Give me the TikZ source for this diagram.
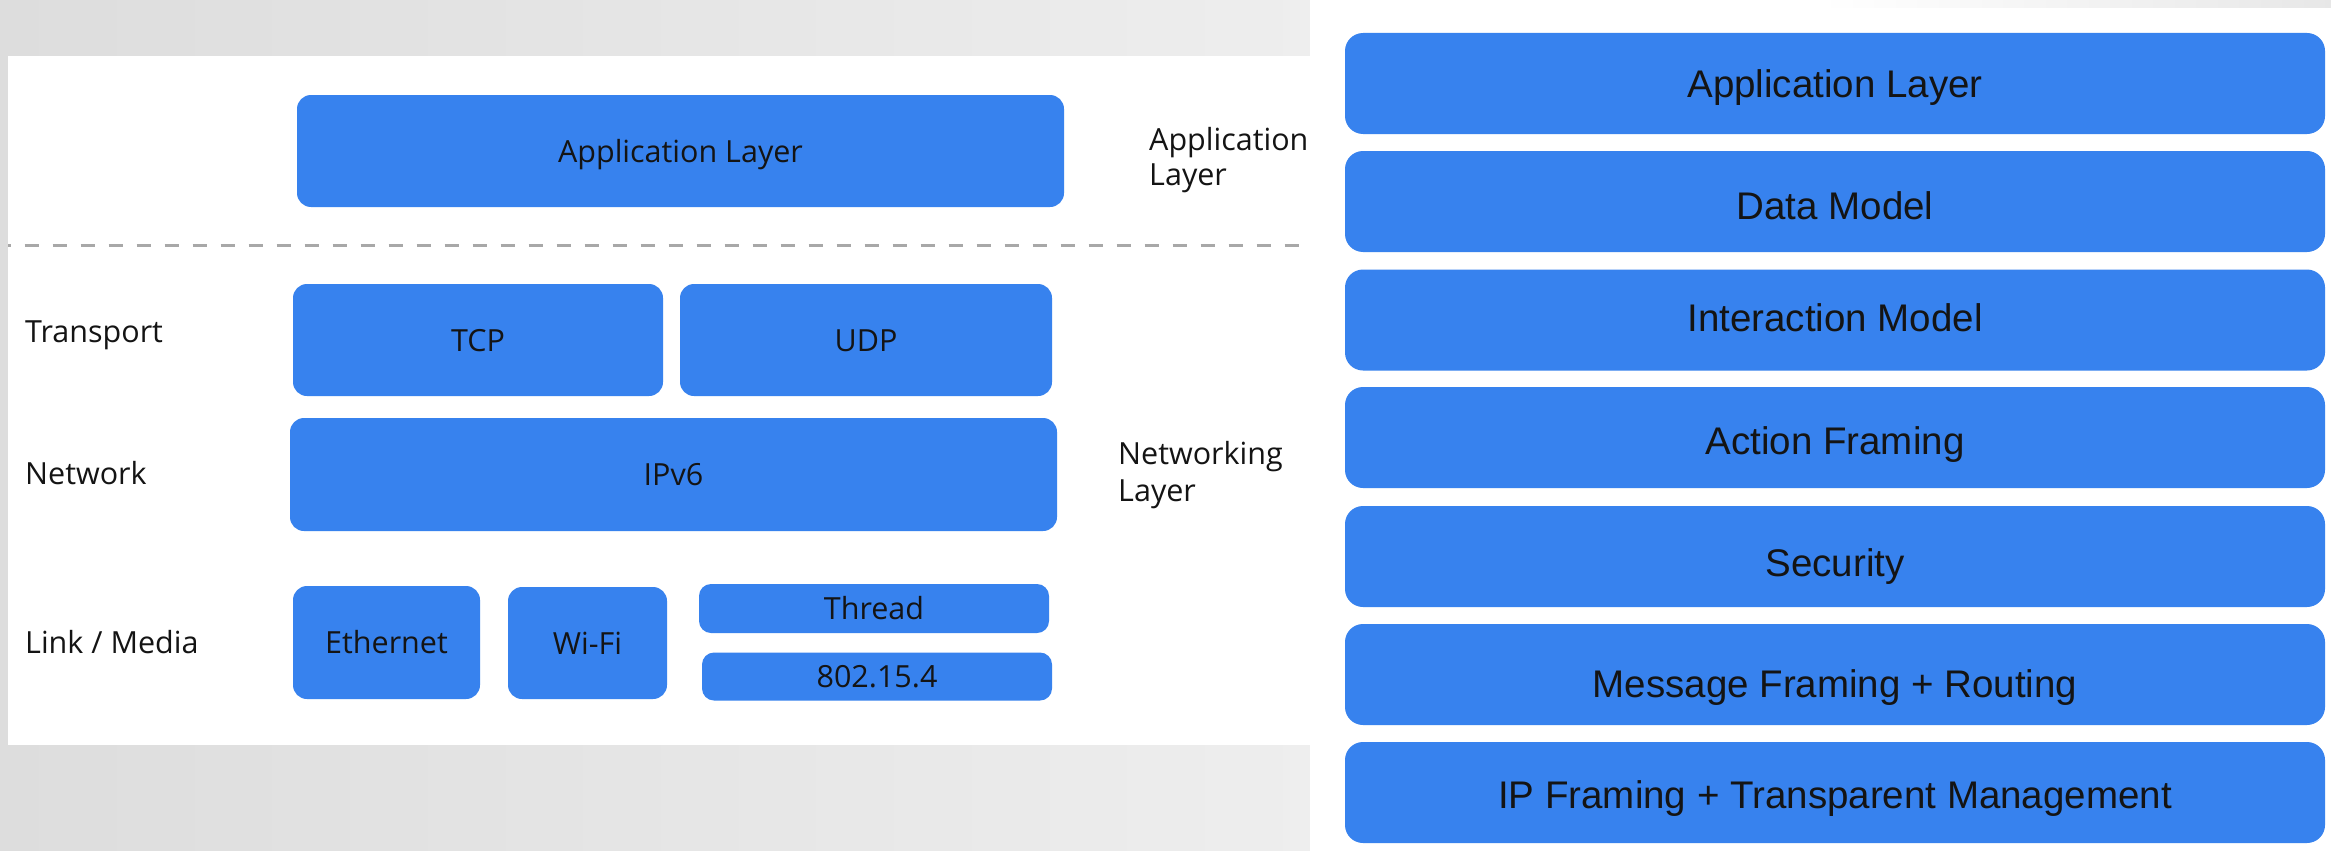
\documentclass[tikz,border=0pt]{standalone}
\usepackage{fontspec}
\newfontfamily\rfont{Liberation Sans}
\newfontfamily\lfont{Open Sans}
\definecolor{boxblue}{RGB}{55,130,238}
\definecolor{bgL}{RGB}{221,221,221}
\definecolor{bgR}{RGB}{251,251,251}
\definecolor{dashgray}{RGB}{168,168,168}
\definecolor{inktext}{RGB}{20,20,20}
\begin{document}
\begin{tikzpicture}[x=1pt,y=-1pt,
  lbox/.style={fill=boxblue, draw=none, rounded corners=14pt, inner sep=0pt,
    font=\lfont\fontsize{30.5}{36}\selectfont, text=inktext, text height=22pt, text depth=0pt},
  rbox/.style={fill=boxblue, draw=none, rounded corners=18pt, inner sep=0pt,
    minimum width=980pt, minimum height=101pt,
    font=\rfont\fontsize{38.5}{46}\selectfont, text=inktext, text height=27.5pt, text depth=0pt},
  llabel/.style={anchor=west, inner sep=0pt, font=\lfont\fontsize{30.5}{36}\selectfont, text=inktext, align=left},
  sep/.style={draw=dashgray, line width=3pt, dash pattern=on 14pt off 14pt, dash phase=11.5pt}
]
\useasboundingbox (0,0) rectangle (2331,851);
% background
\shade[left color=bgL, right color=bgR] (0,0) rectangle (2331,851);
\shade[left color=white, right color=bgL!70!white] (1820,0) rectangle (2331,9);
% panels
\fill[white] (8,56) rectangle (1310,745);
\fill[white] (1310,8) rectangle (2331,851);
\fill[white] (1310,0) rectangle (1820,9);

% ---- left panel ----
\node[lbox, minimum width=767pt, minimum height=112pt] (appL) at (680.5,151) {Application Layer};
\node[llabel, align=left] (appLbl) at (1149,160) {Application\\[-1pt]Layer};
\coordinate (dL) at (8,245);
\coordinate (dR) at (1310,245);
\draw[sep] (dL) -- (dR);

\node[lbox, minimum width=370pt, minimum height=112pt] (tcp) at (478,340) {TCP};
\node[lbox, minimum width=372pt, minimum height=112pt] (udp) at (866,340) {UDP};
\node[lbox, minimum width=767pt, minimum height=113pt] (ipv6) at (673.5,474.5) {IPv6};
\node[lbox, minimum width=187pt, minimum height=113pt] (eth) at (386.5,642.5) {Ethernet};
\node[lbox, minimum width=159pt, minimum height=112pt] (wifi) at (587.5,643) {Wi-Fi};
\node[lbox, minimum width=350pt, minimum height=49pt, rounded corners=12pt] (thread) at (874,608.5) {Thread};
\node[lbox, minimum width=350pt, minimum height=48pt, rounded corners=12pt] (ieee) at (877,676.5) {802.15.4};

\node[llabel] (transport) at (25,335) {Transport};
\node[llabel] (network) at (25,473) {Network};
\node[llabel] (link) at (25,642) {Link / Media};
\node[llabel] (netLbl) at (1118,475) {Networking\\[1pt]Layer};

% ---- right panel ----
\node[rbox] (r1) at (1835,83.5) {Application Layer};
\node[rbox] (r2) at (1835,201.5) {\raisebox{-4pt}{Data Model}};
\node[rbox] (r3) at (1835,320) {\raisebox{2.5pt}{Interaction Model}};
\node[rbox] (r4) at (1835,437.5) {\raisebox{-3pt}{Action Framing}};
\node[rbox] (r5) at (1835,556.5) {\raisebox{-6pt}{Security}};
\node[rbox] (r6) at (1835,674.5) {\raisebox{-9.5pt}{Message Framing + Routing}};
\node[rbox] (r7) at (1835,792.5) {\raisebox{-2pt}{IP Framing + Transparent Management}};
\end{tikzpicture}
\end{document}
